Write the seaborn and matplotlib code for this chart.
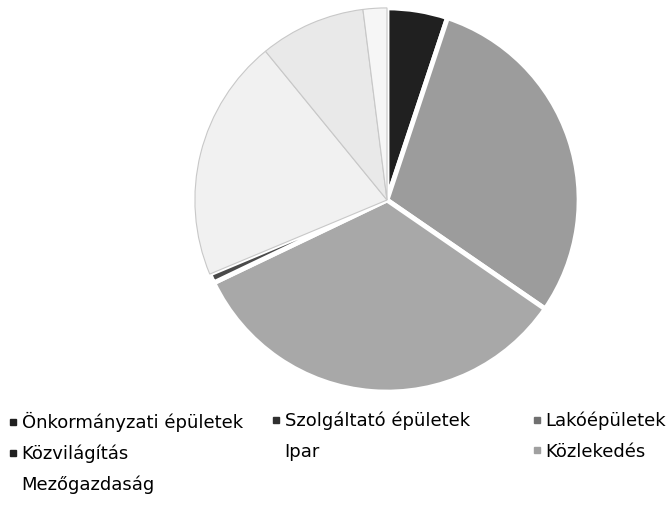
import matplotlib
matplotlib.use('Agg')
import matplotlib.pyplot as plt
from matplotlib.lines import Line2D
import seaborn as sns

# energy use by sector (%)
sectors = ['Önkormányzati épületek', 'Szolgáltató épületek', 'Lakóépületek',
           'Közvilágítás', 'Ipar', 'Közlekedés', 'Mezőgazdaság']
shares = [5.1, 29.5, 33.3, 0.8, 20.4, 8.9, 2.0]

grays = ['#202020', '#9c9c9c', '#a8a8a8', '#4a4a4a', '#f1f1f1', '#e9e9e9', '#f6f6f6']
marker_grays = ['#202020', '#303030', '#707070', '#202020', '#ffffff', '#a0a0a0', '#ffffff']

sns.set_theme(style='white')
plt.rcParams['font.family'] = ['DejaVu Sans']

fig = plt.figure(figsize=(6.71, 5.11), dpi=100)
ax = fig.add_axes([193 / 671, 1 - 394 / 511, 388 / 671, 388 / 511])
wedges, _ = ax.pie(shares, colors=grays, startangle=90, counterclock=False,
                   wedgeprops=dict(edgecolor='white', linewidth=3.5))
# the pale slices only show faint grey borders in the scan
for w in wedges[4:]:
    w.set_edgecolor('#c8c8c8')
    w.set_linewidth(0.8)
ax.set_xlim(-1.01, 1.01)
ax.set_ylim(-1.01, 1.01)
ax.set_aspect('equal')
ax.axis('off')

handles = [Line2D([], [], linestyle='none', marker='s', markersize=4,
                  markerfacecolor=c, markeredgecolor=c) for c in marker_grays]

# Excel-style legend: 3 columns filled row by row
columns = [[0, 3, 6], [1, 4], [2, 5]]
col_x = [9, 272, 533]
for idx, x in zip(columns, col_x):
    fig.legend([handles[i] for i in idx], [sectors[i] for i in idx],
               loc='upper left', bbox_to_anchor=(x / 671, 1 - 412 / 511),
               frameon=False, fontsize=13, borderpad=0, borderaxespad=0,
               handlelength=0.4, handletextpad=0.3, labelspacing=0.68,
               labelcolor='black')

fig.savefig('out.png', dpi=100)
